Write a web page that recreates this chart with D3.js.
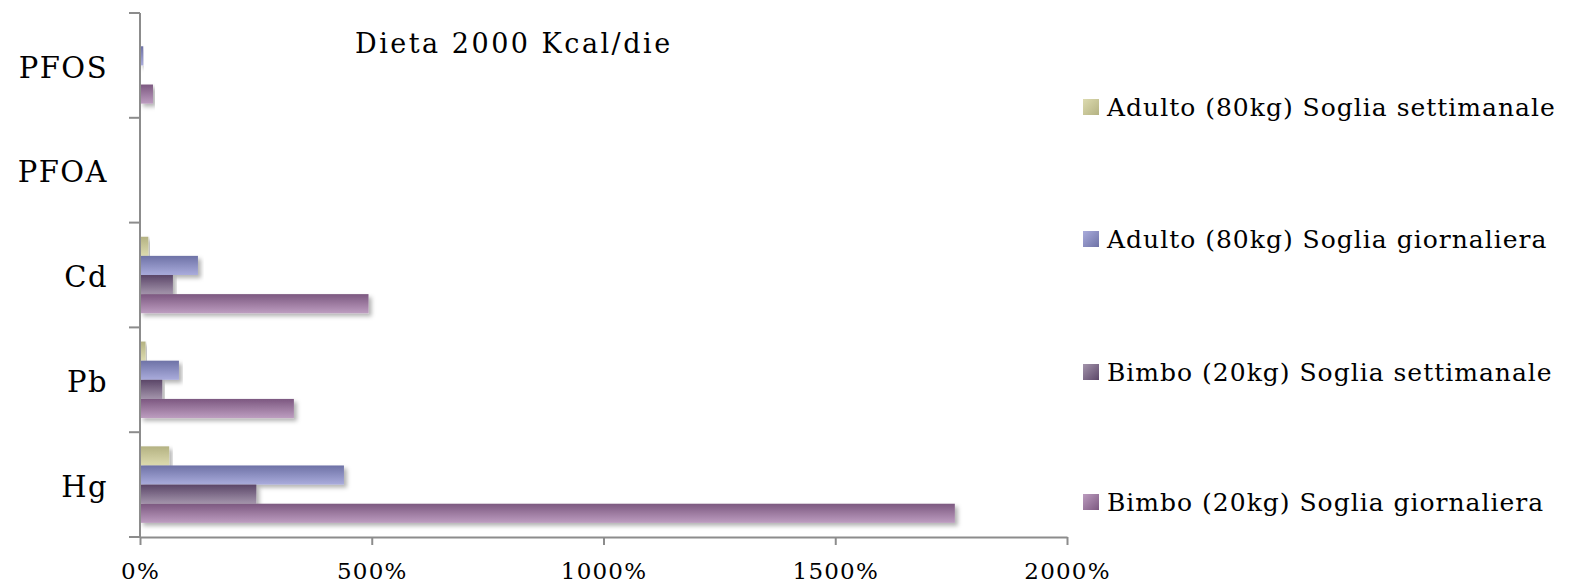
<!DOCTYPE html>
<html>
<head>
<meta charset="utf-8">
<script src="https://cdn.jsdelivr.net/npm/d3@7"></script>
<style>
  body { margin: 0; background: #fff; }
  text { font-family: "DejaVu Serif", serif; fill: #000; }
</style>
</head>
<body>
<div id="chart"></div>
<script>
var categories = ['PFOS', 'PFOA', 'Cd', 'Pb', 'Hg'];
var seriesNames = [
  'Adulto (80kg) Soglia settimanale',
  'Adulto (80kg) Soglia giornaliera',
  'Bimbo (20kg) Soglia settimanale',
  'Bimbo (20kg) Soglia giornaliera'
];
// values in %, order follows categories
var adultoSett = [0, 0, 18, 12, 63];
var adultoGiorn = [7, 0, 125, 84, 440];
var bimboSett = [0, 0, 71, 48, 251];
var bimboGiorn = [28, 0, 493, 332, 1758];
var xTicks = [0, 500, 1000, 1500, 2000];

var seriesValues = [adultoSett, adultoGiorn, bimboSett, bimboGiorn];
var seriesColors = [
  ['#b4b282', '#dddbb0'],
  ['#6e72a6', '#aaacdc'],
  ['#5b4668', '#a495ac'],
  ['#7c5880', '#bd9dc0']
];

var W = 1584, H = 586;
var margin = {top: 13, left: 140, right: 517, bottom: 49};

var svg = d3.select('#chart').append('svg')
    .attr('width', W)
    .attr('height', H);

var defs = svg.append('defs');
var shadow = defs.append('filter').attr('id', 'shadow')
    .attr('x', '-5%').attr('y', '-30%').attr('width', '115%').attr('height', '180%');
shadow.append('feDropShadow')
    .attr('dx', 3).attr('dy', 3).attr('stdDeviation', 2)
    .attr('flood-color', '#000').attr('flood-opacity', 0.3);

seriesColors.forEach(function(c, i) {
  var g = defs.append('linearGradient').attr('id', 'grad' + i)
      .attr('x1', 0).attr('y1', 0).attr('x2', 0).attr('y2', 1);
  g.append('stop').attr('offset', '0%').attr('stop-color', c[0]);
  g.append('stop').attr('offset', '100%').attr('stop-color', c[1]);
  var h = defs.append('linearGradient').attr('id', 'sw' + i)
      .attr('x1', 0).attr('y1', 0).attr('x2', 1).attr('y2', 1);
  h.append('stop').attr('offset', '0%').attr('stop-color', c[1]);
  h.append('stop').attr('offset', '100%').attr('stop-color', c[0]);
});

var x = d3.scaleLinear()
    .domain([0, 2000])
    .range([margin.left, W - margin.right]);

var y = d3.scaleBand()
    .domain(categories)
    .range([margin.top, H - margin.bottom])
    .paddingInner(0.27)
    .paddingOuter(0.135);

var ySub = d3.scaleBand()
    .domain(d3.range(seriesNames.length))
    .range([0, y.bandwidth()]);

// bars
var bars = svg.append('g');
seriesValues.forEach(function(vals, si) {
  bars.selectAll('.bar' + si)
    .data(categories.filter(function(d, i) { return vals[i] > 0; }))
    .enter().append('rect')
    .attr('class', 'bar' + si)
    .attr('x', x(0))
    .attr('y', function(d) { return y(d) + ySub(si); })
    .attr('width', function(d) { return x(vals[categories.indexOf(d)]) - x(0); })
    .attr('height', ySub.bandwidth())
    .attr('fill', 'url(#grad' + si + ')')
    .attr('filter', 'url(#shadow)');
});

// x axis
var xAxis = svg.append('g')
    .attr('transform', 'translate(0,' + (H - margin.bottom) + ')')
    .call(d3.axisBottom(x).tickValues(xTicks).tickSize(8).tickSizeOuter(0)
      .tickFormat(function(d) { return d + '%'; }));
xAxis.select('.domain').attr('stroke', '#8c8c8c').attr('stroke-width', 2);
xAxis.selectAll('.tick line').attr('stroke', '#8c8c8c').attr('stroke-width', 2);
xAxis.selectAll('.tick text')
    .attr('y', 42)
    .attr('dy', 0)
    .attr('font-size', 23)
    .attr('letter-spacing', 1.2)
    .attr('font-family', '"DejaVu Serif", serif');

// y axis: separator ticks between categories
var yEdges = categories.map(function(c) { return y(c) - y.step() * y.paddingInner() / 2; });
yEdges.push(H - margin.bottom);
var yAxis = svg.append('g');
yAxis.append('line')
    .attr('x1', x(0)).attr('x2', x(0))
    .attr('y1', margin.top).attr('y2', H - margin.bottom)
    .attr('stroke', '#8c8c8c').attr('stroke-width', 2);
yAxis.selectAll('.ytick')
    .data(yEdges)
    .enter().append('line')
    .attr('x1', x(0) - 11).attr('x2', x(0))
    .attr('y1', function(d) { return d; })
    .attr('y2', function(d) { return d; })
    .attr('stroke', '#8c8c8c').attr('stroke-width', 2);
yAxis.selectAll('.ylabel')
    .data(categories)
    .enter().append('text')
    .attr('x', 108)
    .attr('y', function(d) { return y(d) + y.bandwidth() / 2 + 2; })
    .attr('dy', '0.35em')
    .attr('text-anchor', 'end')
    .attr('font-size', 29)
    .attr('letter-spacing', 1.5)
    .text(function(d) { return d; });

// title
svg.append('text')
    .attr('x', 355)
    .attr('y', 53)
    .attr('font-size', 27)
    .attr('letter-spacing', 2.5)
    .text('Dieta 2000 Kcal/die');

// legend
var legendY = [107, 239, 372, 502];
var legend = svg.selectAll('.legend')
    .data(seriesNames)
    .enter().append('g')
    .attr('class', 'legend')
    .attr('transform', function(d, i) { return 'translate(1083,' + legendY[i] + ')'; });
legend.append('rect')
    .attr('x', 0).attr('y', -8)
    .attr('width', 16).attr('height', 16)
    .attr('fill', function(d, i) { return 'url(#sw' + i + ')'; });
legend.append('text')
    .attr('x', 24)
    .attr('y', 0)
    .attr('dy', '0.35em')
    .attr('font-size', 25)
    .attr('letter-spacing', 1)
    .text(function(d) { return d; });
</script>
</body>
</html>
